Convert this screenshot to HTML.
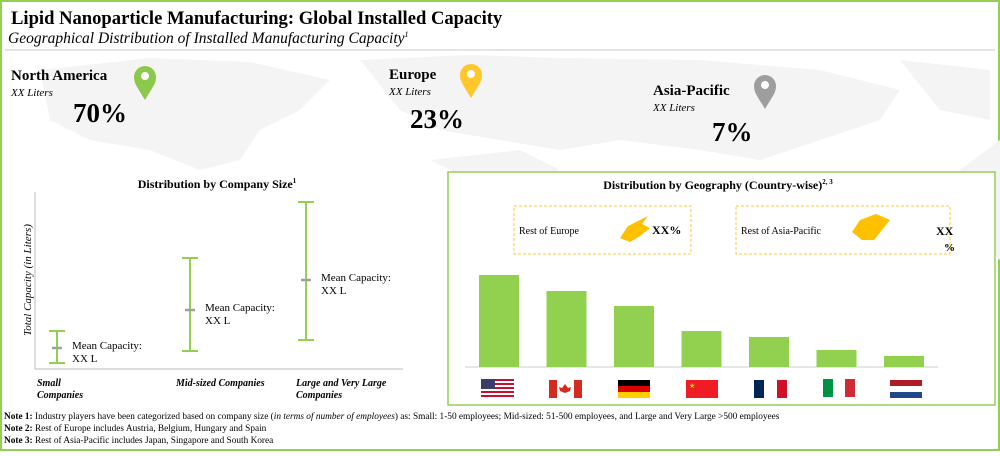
<!DOCTYPE html>
<html><head><meta charset="utf-8"><style>
body{margin:0;width:1000px;height:451px;overflow:hidden;background:#fff;font-family:"Liberation Serif",serif}
</style></head><body>
<svg width="1000" height="451" viewBox="0 0 1000 451" xmlns="http://www.w3.org/2000/svg" font-family="Liberation Serif, serif">
<rect x="1" y="1" width="998" height="449" fill="#fff" stroke="#92d050" stroke-width="2"/>
<g fill="#f4f4f4">
<path d="M40 70 L150 58 L250 62 L330 80 L300 110 L260 130 L240 160 L200 170 L150 150 L90 140 L50 120 Z"/>
<path d="M360 60 L470 55 L560 58 L700 60 L820 70 L900 90 L880 120 L820 140 L760 160 L700 150 L620 140 L560 150 L500 140 L440 130 L400 110 Z"/>
<path d="M900 60 L990 70 L990 120 L940 110 Z"/>
<path d="M430 160 L520 150 L560 170 L520 180 L470 180 Z"/>
<path d="M1000 140 L960 170 L960 230 L1000 260 Z"/>
</g>
<text x="11" y="24" font-size="18.6" font-weight="bold">Lipid Nanoparticle Manufacturing: Global Installed Capacity</text>
<text x="8" y="43" font-size="15.5" font-style="italic">Geographical Distribution of Installed Manufacturing Capacity<tspan font-size="8" dy="-6">1</tspan></text>
<line x1="5" y1="50" x2="995" y2="50" stroke="#c8c8c8" stroke-width="1"/>

<g>
<text x="11" y="80" font-size="15" font-weight="bold">North America</text>
<text x="11" y="96" font-size="11" font-style="italic">XX Liters</text>
<text x="73" y="122" font-size="27" font-weight="bold">70%</text>
<path d="M145 100 C138 88 134 84 134 77 A11 11 0 0 1 156 77 C156 84 152 88 145 100 Z" fill="#8cc84b"/><circle cx="145" cy="76" r="4" fill="#fff"/>
</g>
<g>
<text x="389" y="79" font-size="15" font-weight="bold">Europe</text>
<text x="389" y="95" font-size="11" font-style="italic">XX Liters</text>
<text x="410" y="128" font-size="27" font-weight="bold">23%</text>
<path d="M471 98 C464 86 460 82 460 75 A11 11 0 0 1 482 75 C482 82 478 86 471 98 Z" fill="#ffc72c"/><circle cx="471" cy="74" r="4" fill="#fff"/>
</g>
<g>
<text x="653" y="95" font-size="15" font-weight="bold">Asia-Pacific</text>
<text x="653" y="111" font-size="11" font-style="italic">XX Liters</text>
<text x="712" y="141" font-size="27" font-weight="bold">7%</text>
<path d="M765 109 C758 97 754 93 754 86 A11 11 0 0 1 776 86 C776 93 772 97 765 109 Z" fill="#9e9e9e"/><circle cx="765" cy="85" r="4" fill="#fff"/>
</g>

<g id="leftChart">
<text x="217" y="188" font-size="12" font-weight="bold" text-anchor="middle">Distribution by Company Size<tspan font-size="7" dy="-5">1</tspan></text>
<line x1="35" y1="192" x2="35" y2="369" stroke="#bbb"/>
<line x1="35" y1="369" x2="403" y2="369" stroke="#bbb"/>
<text transform="translate(31,280) rotate(-90)" font-size="11" font-style="italic" text-anchor="middle">Total Capacity (in Liters)</text>
<text x="37" y="386" font-size="10" font-style="italic" font-weight="bold">Small</text>
<text x="37" y="398" font-size="10" font-style="italic" font-weight="bold">Companies</text>
<text x="176" y="386" font-size="10" font-style="italic" font-weight="bold">Mid-sized Companies</text>
<text x="296" y="386" font-size="10" font-style="italic" font-weight="bold">Large and Very Large</text>
<text x="296" y="398" font-size="10" font-style="italic" font-weight="bold">Companies</text>
</g>

<g id="rightPanel">
<rect x="448" y="172" width="547" height="233" fill="#fff" stroke="#92d050" stroke-width="1.5"/>
<text x="718" y="189" font-size="12" font-weight="bold" text-anchor="middle">Distribution by Geography (Country-wise)<tspan font-size="7" dy="-5">2, 3</tspan></text>
<g>
<rect x="514" y="206" width="177" height="48" fill="none" stroke="#ffc72c" stroke-dasharray="3,2"/>
<text x="519" y="234" font-size="10">Rest of Europe</text>
<path d="M620 238 L628 226 L636 222 L648 216 L642 224 L650 228 L640 236 L630 242 Z" fill="#ffc000"/>
<text x="652" y="234" font-size="12" font-weight="bold">XX%</text>
</g>
<g>
<rect x="736" y="206" width="214" height="48" fill="none" stroke="#ffc72c" stroke-dasharray="3,2"/>
<text x="741" y="234" font-size="10">Rest of Asia-Pacific</text>
<path d="M852 232 L860 220 L876 214 L890 220 L882 230 L874 240 L862 240 Z" fill="#ffc000"/>
<text x="936" y="235" font-size="12" font-weight="bold">XX</text>
<text x="944" y="251" font-size="11" font-weight="bold">%</text>
</g>
<line x1="465" y1="367" x2="938" y2="367" stroke="#ccc"/>
<g id="bars"></g>
<g id="flags">
<g><rect x="481" y="379" width="33" height="18" fill="#fff"/>
<rect x="481" y="379" width="33" height="2" fill="#c8102e"/><rect x="481" y="383" width="33" height="2" fill="#c8102e"/><rect x="481" y="387" width="33" height="2" fill="#c8102e"/><rect x="481" y="391" width="33" height="2" fill="#c8102e"/><rect x="481" y="395" width="33" height="2" fill="#c8102e"/><rect x="481" y="379" width="14" height="10" fill="#3c3b6e"/></g>
<g><rect x="549" y="380" width="33" height="18" fill="#fff"/><rect x="549" y="380" width="8" height="18" fill="#d52b1e"/><rect x="574" y="380" width="8" height="18" fill="#d52b1e"/><path d="M565 384 l3 4 l3 -1 l-1 4 l-5 2 l-5 -2 l-1 -4 l3 1 Z" fill="#d52b1e"/></g>
<g><rect x="618" y="380" width="32" height="6" fill="#000"/><rect x="618" y="386" width="32" height="6" fill="#dd0000"/><rect x="618" y="392" width="32" height="6" fill="#ffce00"/></g>
<g><rect x="686" y="380" width="32" height="18" fill="#ee1c25"/><text x="689" y="388" font-size="7" fill="#ffde00">★</text></g>
<g><rect x="754" y="380" width="33" height="18" fill="#fff"/><rect x="754" y="380" width="10" height="18" fill="#002654"/><rect x="777" y="380" width="10" height="18" fill="#ce1126"/></g>
<g><rect x="823" y="379" width="32" height="18" fill="#fff"/><rect x="823" y="379" width="10" height="18" fill="#009246"/><rect x="845" y="379" width="10" height="18" fill="#ce2b37"/></g>
<g><rect x="890" y="380" width="32" height="18" fill="#fff"/><rect x="890" y="380" width="32" height="6" fill="#ae1c28"/><rect x="890" y="392" width="32" height="6" fill="#21468b"/></g>
</g>
</g>

<g font-size="9.3">
<text x="4" y="419"><tspan font-weight="bold">Note 1:</tspan> Industry players have been categorized based on company size (<tspan font-style="italic">in terms of number of employees</tspan>) as: Small: 1-50 employees; Mid-sized: 51-500 employees, and Large and Very Large &gt;500 employees</text>
<text x="4" y="431"><tspan font-weight="bold">Note 2:</tspan> Rest of Europe includes Austria, Belgium, Hungary and Spain</text>
<text x="4" y="443"><tspan font-weight="bold">Note 3:</tspan> Rest of Asia-Pacific includes Japan, Singapore and South Korea</text>
</g>
</svg>
<script>
const NS="http://www.w3.org/2000/svg";
const countries=["US","Canada","Germany","China","France","Italy","Netherlands"];
const shares=[92,76,61,36,30,17,11];
const sizeCategories=["Small","Mid-sized","Large and Very Large"];
const sizeMin=[6,18,29];
const sizeMax=[38,111,167];
const sizeMean=[21,59,89];

function bx(i){return 479+i*67.5;}
function by(v){return 367-v;}
const bars=document.getElementById('bars');
shares.forEach((v,i)=>{
  const r=document.createElementNS(NS,'rect');
  r.setAttribute('x',bx(i));r.setAttribute('y',by(v));
  r.setAttribute('width',40);r.setAttribute('height',367-by(v));
  r.setAttribute('fill','#92d050');
  
  
  bars.appendChild(r);
});

function ex(i){return [57,190,306][i];}
function ey(v){return 369-v;}
const lc=document.getElementById('leftChart');
sizeCategories.forEach((c,i)=>{
  const g=document.createElementNS(NS,'g');
  
  
  const x=ex(i),t=ey(sizeMax[i]),b=ey(sizeMin[i]),m=ey(sizeMean[i]);
  const mk=(x1,y1,x2,y2,col,w)=>{const l=document.createElementNS(NS,'line');l.setAttribute('x1',x1);l.setAttribute('y1',y1);l.setAttribute('x2',x2);l.setAttribute('y2',y2);l.setAttribute('stroke',col);l.setAttribute('stroke-width',w);g.appendChild(l);};
  mk(x,t,x,b,'#92d050',2);mk(x-8,t,x+8,t,'#92d050',2);mk(x-8,b,x+8,b,'#92d050',2);
  mk(x-5,m,x+5,m,'#a0a0a0',2.5);
  const t1=document.createElementNS(NS,'text');t1.setAttribute('x',x+15);t1.setAttribute('y',m+1);t1.setAttribute('font-size','11');t1.textContent='Mean Capacity:';g.appendChild(t1);
  const t2=document.createElementNS(NS,'text');t2.setAttribute('x',x+15);t2.setAttribute('y',m+14);t2.setAttribute('font-size','11');t2.textContent='XX L';g.appendChild(t2);
  lc.appendChild(g);
});
</script>
</body></html>
